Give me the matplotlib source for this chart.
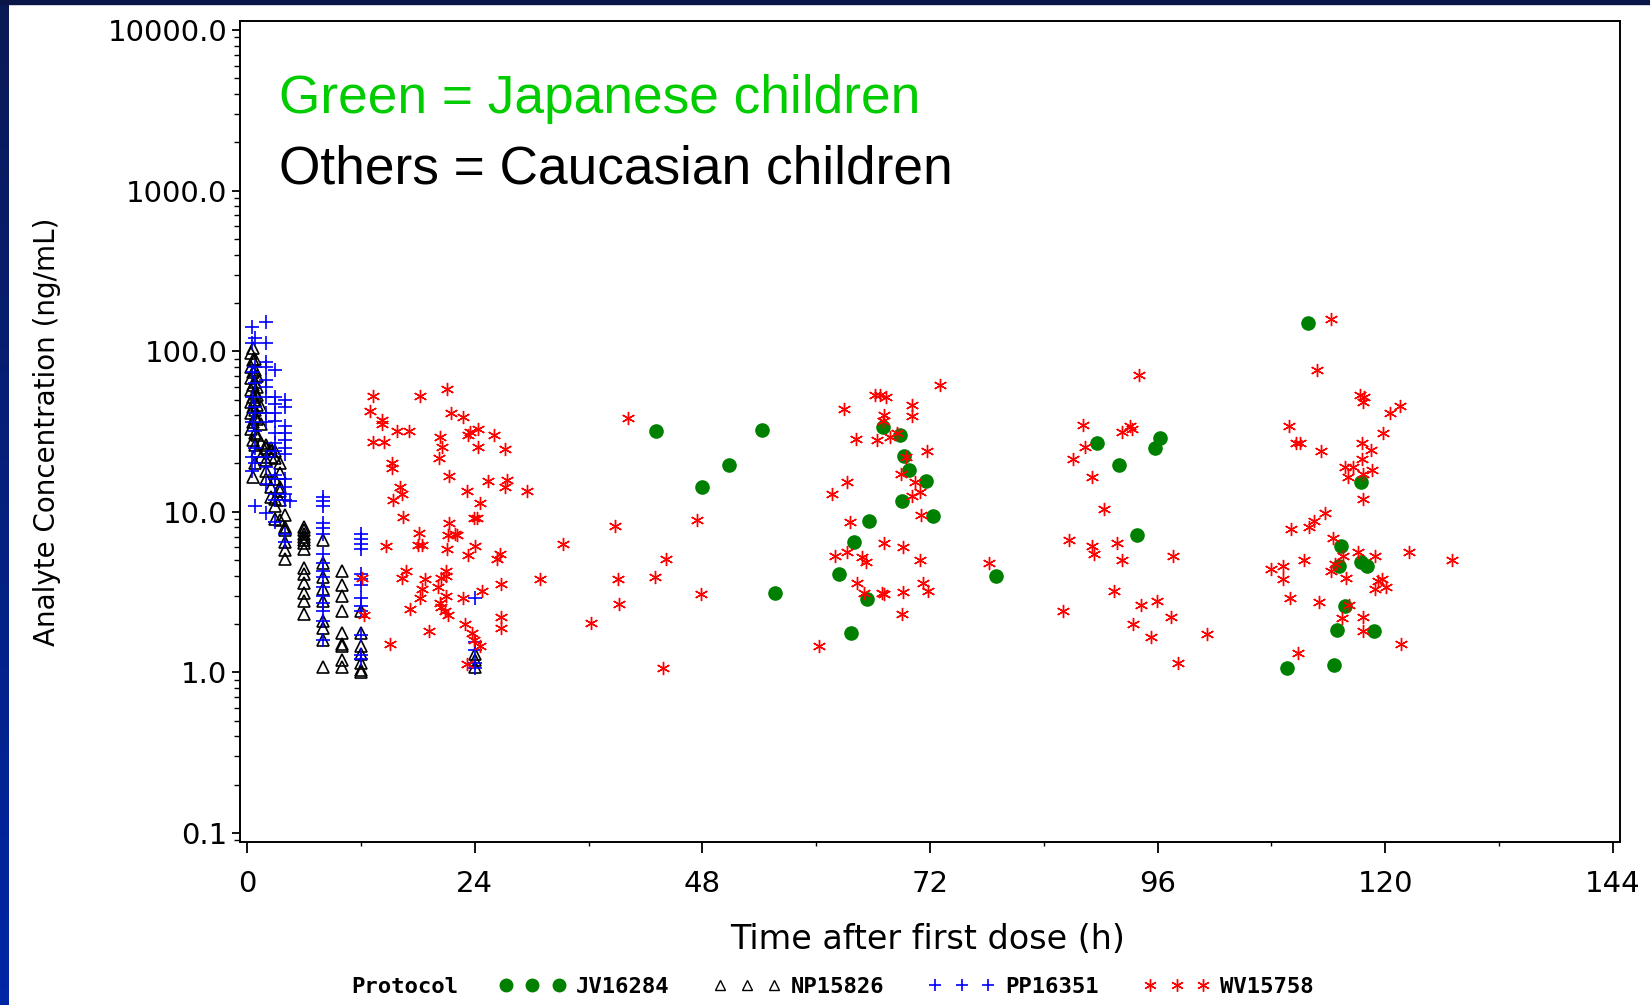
import matplotlib
matplotlib.use("Agg")
import numpy as np
import matplotlib.pyplot as plt
from matplotlib.lines import Line2D
from matplotlib.patches import Rectangle
from matplotlib.ticker import LogLocator, NullFormatter

# JV16284 (Japanese children): time after first dose (h), concentration (ng/mL)
jv_time = [43.1, 48.0, 50.8, 54.3, 55.7, 67.0, 68.8, 69.3, 69.8, 71.6, 69.0, 72.3,
           65.6, 64.0, 62.4, 65.4, 63.7, 79.0, 89.6, 91.9, 96.2, 95.7, 93.8,
           111.9, 117.4, 115.3, 117.4, 118.1, 115.1, 115.8, 114.9, 118.8, 109.6, 114.6]
jv_conc = [32.0, 14.2, 19.5, 32.5, 3.1, 33.5, 30.1, 22.3, 18.3, 15.5, 11.7, 9.4,
           8.75, 6.5, 4.1, 2.87, 1.77, 4.0, 26.7, 19.5, 28.8, 24.8, 7.2,
           149, 15.3, 6.1, 4.9, 4.6, 4.6, 2.6, 1.83, 1.80, 1.06, 1.11]

# NP15826
np_time = [0.4, 0.4, 0.4, 0.4, 0.4, 0.4, 0.4,
           0.6, 0.6, 0.6, 0.6, 0.6, 0.6, 0.6, 0.6, 0.6,
           0.8, 0.8, 0.8, 0.8, 0.8, 0.8, 0.8, 0.8, 0.8, 0.8,
           1.0, 1.0, 1.0, 1.0, 1.0, 1.0, 1.0,
           1.5, 1.5, 1.5, 1.5,
           2.0, 2.0, 2.0, 2.0, 2.0,
           2.5, 2.5, 2.5, 2.5, 2.5,
           3.0, 3.0, 3.0, 3.0, 3.0, 3.0,
           3.5, 3.5, 3.5, 3.5, 3.5, 3.5,
           4.0, 4.0, 4.0, 4.0, 4.0, 4.0,
           6.0, 6.0, 6.0, 6.0, 6.0, 6.0, 6.0, 6.0, 6.0, 6.0, 6.0, 6.0, 6.0,
           8.0, 8.0, 8.0, 8.0, 8.0, 8.0, 8.0, 8.0, 8.0,
           10.0, 10.0, 10.0, 10.0, 10.0, 10.0, 10.0, 10.0, 10.0,
           12.0, 12.0, 12.0, 12.0, 12.0, 12.0, 12.0,
           24.0, 24.0, 24.0]
np_conc = [97, 80, 68, 57, 48, 41, 33,
           105, 88, 74, 62, 52, 45, 36, 28, 16.5,
           90, 76, 64, 55, 50, 43, 39, 31, 26, 20,
           70, 60, 53, 46, 38, 30, 24,
           45, 35, 27, 22,
           26, 25, 21, 18, 16,
           25, 22, 24, 14.3, 12.4,
           24, 21.5, 16, 12, 10.8, 9.0,
           20, 17.4, 14.3, 13.4, 11.9, 8.9,
           9.5, 8.1, 7.7, 6.5, 5.8, 5.1,
           8.1, 7.7, 7.3, 7.0, 6.7, 6.4, 5.9, 4.5, 4.1, 3.6, 3.1, 2.8, 2.3,
           6.7, 4.8, 3.9, 3.3, 2.8, 2.1, 1.9, 1.6, 1.08,
           4.3, 3.5, 3.0, 2.4, 1.75, 1.5, 1.45, 1.19, 1.08,
           2.4, 1.75, 1.45, 1.3, 1.14, 1.03, 1.0,
           1.3, 1.19, 1.08]

# PP16351
pp_time = [0.5, 0.5, 0.5, 0.5, 0.5, 0.5, 0.5,
           0.8, 0.8, 0.8, 0.8, 0.8, 0.8, 0.8, 0.8, 0.8,
           2.0, 2.0, 2.0, 2.0, 2.0, 2.0, 2.0, 2.0, 2.0, 2.0, 2.0, 2.0, 2.0,
           3.0, 3.0, 3.0, 3.0, 3.0, 3.0, 3.0, 3.0, 3.0, 3.0, 3.0, 3.0, 3.0,
           4.0, 4.0, 4.0, 4.0, 4.0, 4.0, 4.0, 4.0, 4.0, 4.0, 4.0, 4.0, 4.0,
           4.5,
           8.0, 8.0, 8.0, 8.0, 8.0, 8.0, 8.0, 8.0, 8.0, 8.0, 8.0, 8.0, 8.0, 8.0, 8.0, 8.0,
           12.0, 12.0, 12.0, 12.0, 12.0, 12.0, 12.0, 12.0, 12.0, 12.0, 12.0, 12.0, 12.0,
           24.0, 24.0, 24.0, 24.0, 24.0]
pp_conc = [142, 112, 74, 52, 36, 22, 18,
           120, 80, 63, 45, 41, 32, 25, 20, 10.9,
           152, 112, 86, 80, 66, 60, 52, 41, 36, 22, 19, 15, 9.8,
           76, 52, 47, 41, 37, 31, 27, 24, 17, 16, 13, 11.9, 8.7,
           50, 45, 34, 31, 28, 25, 23, 16, 14.3, 13, 11.9, 7.3, 6.5,
           11.6,
           12.4, 11.6, 10.8, 8.5, 7.9, 7.3, 5.5, 4.8, 4.3, 3.9, 3.4, 3.0, 2.7, 2.4, 2.1, 1.6,
           7.3, 6.8, 6.3, 5.9, 4.1, 3.8, 3.5, 2.9, 2.6, 2.4, 1.7, 1.28, 1.22,
           2.9, 1.55, 1.38, 1.14, 1.06]

# WV15758
wv_time = [13.3, 18.2, 21.1, 13.0, 14.2, 14.2, 15.8, 17.1, 13.3, 14.4, 21.5, 22.8,
           20.3, 20.6, 23.3, 23.5, 24.3, 26.0, 24.4, 27.2, 20.2, 15.3, 15.3, 21.3,
           25.4, 27.4, 27.2, 29.5, 16.1, 16.3, 15.4, 23.2, 24.6, 16.4, 23.9, 24.2,
           21.3, 18.1, 21.9, 22.1, 21.2, 14.7, 18.0, 18.4, 21.1, 24.0, 23.3, 26.7,
           26.4, 33.3, 16.8, 16.3, 21.0, 20.4, 20.1, 18.8, 18.4, 18.2, 21.0, 21.0,
           20.3, 20.5, 20.9, 21.2, 17.2, 22.8, 24.8, 26.8, 30.9, 26.8, 26.8, 19.2,
           15.1, 23.0, 23.7, 23.9, 24.6, 23.2, 12.1, 12.3,
           40.2, 38.8, 44.2, 47.4, 39.1, 43.0, 47.9, 39.2, 36.3, 43.9,
           62.9, 66.2, 66.7, 67.4, 73.1, 70.1, 70.1, 67.2, 67.0, 64.2, 66.4, 67.8,
           68.5, 71.7, 69.5, 68.9, 63.3, 61.7, 70.4, 70.9, 70.1, 71.1, 63.6, 67.2,
           69.2, 70.9, 62.0, 63.3, 64.8, 65.3, 78.2, 64.3, 65.0, 66.9, 67.2, 69.2,
           71.3, 71.8, 69.1, 60.3,
           88.1, 88.3, 87.1, 89.1, 90.3, 86.7, 89.1, 89.3, 86.0, 94.0, 93.1, 92.2,
           93.3, 91.7, 92.2, 97.6, 91.4, 94.2, 95.9, 97.4, 93.4, 95.3, 101.2, 98.1,
           112.8, 117.3, 117.8, 117.6, 121.5, 120.5, 109.8, 110.6, 111.0, 113.2,
           117.5, 118.5, 119.8, 117.5, 115.7, 116.6, 117.6, 118.6, 116.1, 117.6,
           113.6, 112.5, 112.0, 110.1, 114.5, 115.5, 117.1, 118.9, 122.5, 127.0,
           111.4, 114.7, 114.3, 108.0, 109.2, 109.2, 115.9, 119.2, 119.6, 118.9,
           120.1, 109.9, 113.0, 116.2, 115.4, 117.6, 117.6, 121.7, 110.8, 114.3]
wv_conc = [52.6, 52.6, 58, 42.7, 37.2, 35, 32, 32, 27.3, 27.3, 41.4, 39,
           29.3, 25.4, 30, 31.6, 33, 30, 25.2, 24.6, 21.5, 20, 18.7, 16.7,
           15.6, 15.8, 14.3, 13.5, 14.2, 13, 11.9, 13.5, 11.4, 9.3, 9.1, 9.1,
           8.5, 7.4, 7.3, 7.2, 7.2, 6.1, 6.2, 6.2, 5.9, 6.1, 5.4, 5.5,
           5.1, 6.3, 4.3, 3.85, 4.3, 3.85, 3.4, 3.8, 3.3, 2.9, 3.98, 3.0,
           2.7, 2.57, 2.4, 2.28, 2.47, 2.92, 3.2, 3.55, 3.8, 2.2, 1.9, 1.82,
           1.5, 2.0, 1.75, 1.6, 1.45, 1.13, 3.85, 2.28,
           38.2, 8.2, 5.1, 8.9, 3.8, 3.9, 3.08, 2.65, 2.04, 1.06,
           43.5, 53.3, 53.3, 52, 62, 46, 39.5, 40, 37, 28.6, 28, 29.4,
           31, 24, 22, 17.1, 15.4, 13, 15.4, 13.3, 12.5, 9.5, 8.7, 6.4,
           6.0, 5.0, 5.3, 5.6, 5.25, 4.9, 4.8, 3.6, 3.1, 3.1, 3.06, 3.15,
           3.6, 3.2, 2.3, 1.46,
           34.7, 25.2, 21.4, 16.4, 10.4, 6.7, 6.1, 5.5, 2.4, 71, 34.2, 31.6,
           33, 6.4, 5.0, 5.3, 3.2, 2.63, 2.8, 2.22, 2.0, 1.67, 1.73, 1.15,
           76, 53, 52, 48.5, 45.6, 41.4, 34.2, 27, 26.7, 24,
           26.7, 24.2, 31, 21.2, 19, 18.9, 17.3, 18.2, 16.5, 12.1,
           9.9, 8.8, 8.0, 7.8, 6.9, 5.3, 5.6, 5.3, 5.6, 5.0,
           5.0, 4.7, 4.3, 4.4, 4.6, 3.8, 3.85, 3.7, 3.8, 3.3,
           3.4, 2.92, 2.74, 2.63, 2.17, 2.2, 1.82, 1.5, 1.33, 159]

x_ticks = [0, 24, 48, 72, 96, 120, 144]
y_ticks = [0.1, 1, 10, 100, 1000, 10000]
y_labels = ["0.1", "1.0", "10.0", "100.0", "1000.0", "10000.0"]
protocols = ["JV16284", "NP15826", "PP16351", "WV15758"]

W, H = 1650, 1005
fig = plt.figure(figsize=(W / 100, H / 100), dpi=100)
fig.patch.set_facecolor("white")

# slide decoration: blue stripe on the left, dark band on top
side = fig.add_axes([0, 0, 9 / W, 1])
side.imshow(np.linspace(0, 1, 256).reshape(-1, 1), aspect="auto",
            cmap=matplotlib.colors.LinearSegmentedColormap.from_list("s", ["#0b1a55", "#0026a6"]))
side.axis("off")
fig.add_artist(Rectangle((0, 1 - 4 / H), 1, 4 / H, transform=fig.transFigure,
                         color="#0a1648", zorder=5))

ax = fig.add_axes([240 / W, 1 - 842 / H, 1380 / W, 821 / H])
ax.set_yscale("log")
ax.set_xlim(-0.74, 144.74)
ax.set_ylim(0.0879, 11380)

ax.plot(jv_time, jv_conc, ls="none", marker="o", ms=9.5, color="#008000")
ax.plot(np_time, np_conc, ls="none", marker="^", ms=8, mfc="none", mec="black", mew=1.2)
ax.plot(pp_time, pp_conc, ls="none", marker="+", ms=10, color="#0000ff", mew=1.2)
ax.plot(wv_time, wv_conc, ls="none", marker=(6, 2, 0), ms=9.5, color="#ff0000", mew=1.0)

ax.set_xticks(x_ticks)
ax.set_xticks([12, 36, 60, 84, 108, 132], minor=True)
ax.set_yticks(y_ticks)
ax.set_yticklabels(y_labels)
ax.yaxis.set_minor_locator(LogLocator(base=10, subs=range(2, 10)))
ax.yaxis.set_minor_formatter(NullFormatter())
ax.tick_params(axis="x", which="major", length=8, width=1.3, pad=12, labelsize=21)
ax.tick_params(axis="y", which="major", length=6, width=1.3, pad=3, labelsize=21)
ax.tick_params(axis="x", which="minor", length=3, width=1)
ax.tick_params(axis="y", which="minor", length=4, width=1)
for s in ax.spines.values():
    s.set_linewidth(1.4)

fig.text(47 / W, 1 - 432 / H, "Analyte Concentration (ng/mL)", rotation=90,
         ha="center", va="center", fontsize=20)
fig.text(928 / W, 1 - 939 / H, "Time after first dose (h)", ha="center", va="center",
         fontsize=24)

fig.text(279 / W, 1 - 113 / H, "Green = Japanese children", color="#00cc00",
         family="Liberation Sans", fontsize=38.3, va="baseline")
fig.text(279 / W, 1 - 183 / H, "Others = Caucasian children", color="black",
         family="Liberation Sans", fontsize=38.3, va="baseline")

# legend
fig.text(351 / W, 1 - 987 / H, "Protocol", family="DejaVu Sans Mono", weight="bold",
         fontsize=16, va="center")
handles = [
    Line2D([], [], ls="none", marker="o", ms=9, color="#008000"),
    Line2D([], [], ls="none", marker="^", ms=7.5, mfc="none", mec="black", mew=1.0),
    Line2D([], [], ls="none", marker="+", ms=9, color="#0000ff", mew=1.2),
    Line2D([], [], ls="none", marker=(6, 2, 0), ms=9, color="#ff0000", mew=1.0),
]
fig.legend(handles, protocols, loc="center left", bbox_to_anchor=(499 / W, 1 - 987 / H),
           ncol=4, numpoints=3, frameon=False, handlelength=3.0, handletextpad=0.45,
           columnspacing=2.0, borderpad=0, borderaxespad=0,
           prop={"family": "DejaVu Sans Mono", "weight": "bold", "size": 16})

fig.savefig("out.png", dpi=100)
